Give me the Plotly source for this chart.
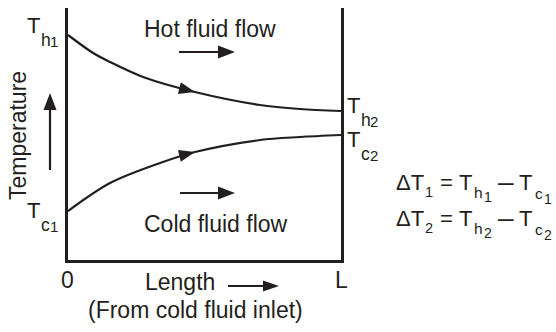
import math
import plotly.graph_objects as go

# ---------------- data ----------------
length_frac = [0.0, 0.092, 0.154, 0.275, 0.465, 0.703, 0.85, 1.0]
hot_temp    = [225, 207, 198, 183, 168, 155, 151, 149]
cold_x      = [0.0, 0.154, 0.337, 0.465, 0.703, 0.85, 1.0]
cold_temp   = [49, 77, 97, 108, 120, 123, 125]
arrow_idx_hot = 4   # point on hot curve carrying the direction arrow
arrow_idx_cold = 3  # point on cold curve carrying the direction arrow

INK = "#231f20"
FONT = "Liberation Sans, Arial, Helvetica, sans-serif"

W, H = 556, 332
L_, R_, T_, B_ = 68, 341, 8, 260   # plot-area pixel box


def px2x(px):
    return (px - L_) / (R_ - L_)


def py2y(py):
    return (B_ - py) / (B_ - T_)


fig = go.Figure()
fig.add_trace(go.Scatter(x=length_frac, y=hot_temp, mode="lines",
                         line=dict(color=INK, width=2.2, shape="spline", smoothing=0.9),
                         hoverinfo="skip", showlegend=False))
fig.add_trace(go.Scatter(x=cold_x, y=cold_temp, mode="lines",
                         line=dict(color=INK, width=2.2, shape="spline", smoothing=0.9),
                         hoverinfo="skip", showlegend=False))

shapes = []


def head(xa, ya, xref, yref, ang_deg, L=17, Wd=13):
    a = math.radians(ang_deg)
    c, s = math.cos(a), math.sin(a)
    bx, by = -L * c, -L * s
    nx, ny = -s, c
    p1 = (bx + Wd / 2 * nx, by + Wd / 2 * ny)
    p2 = (bx - Wd / 2 * nx, by - Wd / 2 * ny)
    path = "M0,0 L%.2f,%.2f L%.2f,%.2f Z" % (p1[0], p1[1], p2[0], p2[1])
    shapes.append(dict(type="path", path=path, xsizemode="pixel", ysizemode="pixel",
                       xanchor=xa, yanchor=ya, xref=xref, yref=yref,
                       fillcolor=INK, line=dict(width=0)))


def shaft(x0, y0, x1, y1, w=2.2):
    shapes.append(dict(type="line", xref="paper", yref="paper",
                       x0=px2x(x0), y0=py2y(y0), x1=px2x(x1), y1=py2y(y1),
                       line=dict(color=INK, width=w)))


# flow arrows
shaft(179, 52, 222, 52)
head(px2x(235), py2y(52), "paper", "paper", 0)
shaft(180, 193, 222, 193)
head(px2x(235), py2y(193), "paper", "paper", 0)
# length arrow
shaft(228, 286, 268, 286, 1.8)
head(px2x(279), py2y(286), "paper", "paper", 0, L=16, Wd=11)
# temperature arrow
shaft(50, 170, 50, 105)
head(px2x(50), py2y(93), "paper", "paper", 90)
# arrows on curves
head(length_frac[arrow_idx_hot], hot_temp[arrow_idx_hot], "x", "y", -14, L=16, Wd=12)
head(cold_x[arrow_idx_cold], cold_temp[arrow_idx_cold], "x", "y", 14, L=16, Wd=12)

annotations = []
ASC = 0.3465  # (ascent - (ascent+descent)/2) for Liberation Sans


def txt(s, x, baseline, size, xanchor="left"):
    annotations.append(dict(text=s, x=px2x(x), y=py2y(baseline - ASC * size),
                            xref="paper", yref="paper", xanchor=xanchor, yanchor="middle",
                            showarrow=False, borderpad=0, borderwidth=0,
                            font=dict(family=FONT, size=size, color=INK)))


MAIN = 23
TS = 22
txt("Hot fluid flow", 209.5, 37, MAIN, "center")
txt("Cold fluid flow", 215.5, 232, MAIN, "center")
txt("Length", 145, 290, MAIN)
txt("(From cold fluid inlet)", 195, 318, MAIN, "center")
txt("0", 67.5, 288, MAIN, "center")
txt("L", 341, 288, MAIN, "center")

annotations.append(dict(text="Temperature", x=px2x(17.5), y=py2y(135.5), xref="paper",
                        yref="paper", xanchor="center", yanchor="middle", textangle=-90,
                        showarrow=False, borderpad=0, borderwidth=0,
                        font=dict(family=FONT, size=MAIN, color=INK)))


def tlabel(x, base, sub, num):
    txt("T", x, base, TS)
    txt(sub, x + 13.5, base + 13, 17.5)
    txt(num, x + 23, base + 14, 15)


tlabel(27, 33, "h", "1")
tlabel(27, 218, "c", "1")
tlabel(347, 113, "h", "2")
tlabel(347, 147, "c", "2")


def eq(base, n):
    txt("ΔT", 396, base, TS)
    txt(n, 425, base + 7, 14.5)
    txt("=", 440, base, TS)
    txt("T", 459, base, TS)
    txt("h", 474, base + 8, 15.5)
    txt(n, 483.5, base + 12, 14)
    txt("–", 498, base + 1, 28)
    txt("T", 519, base, TS)
    txt("c", 534.5, base + 9, 15.5)
    txt(n, 543.5, base + 14, 14)


eq(190, "1")
eq(226, "2")

axis_common = dict(showgrid=False, zeroline=False, showticklabels=False, ticks="",
                   showline=True, linecolor=INK, linewidth=2.5, fixedrange=True)
fig.update_layout(
    width=W, height=H,
    margin=dict(l=L_, r=W - R_, t=T_, b=H - B_, pad=0),
    paper_bgcolor="white", plot_bgcolor="white",
    xaxis=dict(range=[0, 1], **axis_common),
    yaxis=dict(range=[0, B_ - T_], mirror=True, **axis_common),
    shapes=shapes, annotations=annotations,
    font=dict(family=FONT, color=INK),
)

fig.write_html("out.html", config={"displayModeBar": False})
